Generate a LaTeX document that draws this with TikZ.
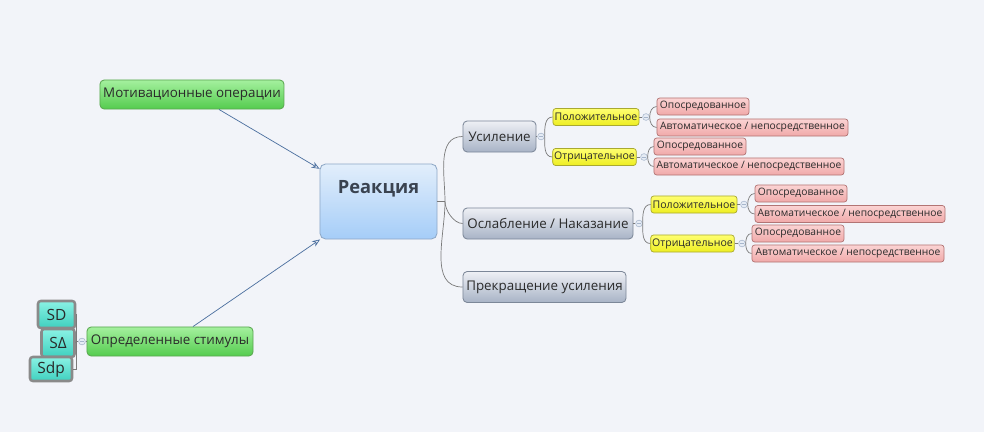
\documentclass[tikz,border=0pt]{standalone}
\usepackage{fontspec}
\setmainfont{Open Sans}
\usepackage{tikz}
\usetikzlibrary{arrows.meta,calc}
\definecolor{canvas}   {HTML}{F2F4F9}
\definecolor{ink}      {HTML}{2A2A2A}
\definecolor{reactink} {HTML}{3A4350}
\definecolor{linegrey} {HTML}{7A7A7A}
\definecolor{arrblue}  {HTML}{4A6E9E}
\definecolor{greentop} {HTML}{A4F09E}
\definecolor{greenbot} {HTML}{55CC4F}
\definecolor{greenedge}{HTML}{5AA650}
\definecolor{reacttop} {HTML}{E2EEFB}
\definecolor{reactbot} {HTML}{A5CDF8}
\definecolor{reactedge}{HTML}{8EA8C6}
\definecolor{greytop}  {HTML}{EEF0F5}
\definecolor{greybot}  {HTML}{A8B3C6}
\definecolor{greyedge} {HTML}{7C8798}
\definecolor{yeltop}   {HTML}{FFFF70}
\definecolor{yelbot}   {HTML}{EEEE22}
\definecolor{yeledge}  {HTML}{A9A930}
\definecolor{pinktop}  {HTML}{FBD3D3}
\definecolor{pinkbot}  {HTML}{F0A9A9}
\definecolor{pinkedge} {HTML}{B27474}
\definecolor{tealtop}  {HTML}{8AF2E4}
\definecolor{tealbot}  {HTML}{3FD0BF}
\definecolor{tealedge} {HTML}{8A8A8A}
\definecolor{markfill} {HTML}{E6ECF5}
\definecolor{markedge} {HTML}{A7B6CC}
\tikzset{
  greenbox/.style ={draw=greenedge, top color=greentop, bottom color=greenbot,
                    rounded corners=3pt, line width=0.6pt, minimum height=0.725cm,
                    inner sep=2pt, text=ink, font=\fontsize{9.5}{11}\selectfont},
  reactbox/.style ={draw=reactedge, top color=reacttop, bottom color=reactbot,
                    rounded corners=4pt, line width=0.6pt,
                    minimum width=2.925cm, minimum height=1.875cm,
                    text depth=0.75cm, inner sep=2pt, text=reactink,
                    font=\fontsize{13}{15}\selectfont\bfseries},
  topicbox/.style ={draw=greyedge, top color=greytop, bottom color=greybot,
                    rounded corners=3pt, line width=0.6pt, minimum height=0.775cm,
                    inner sep=2pt, text=ink, font=\fontsize{9.5}{11}\selectfont},
  yelbox/.style   ={draw=yeledge, top color=yeltop, bottom color=yelbot,
                    rounded corners=2pt, line width=0.5pt, minimum height=0.425cm,
                    inner sep=1pt, text=ink, font=\fontsize{7.5}{9}\selectfont},
  pinkbox/.style  ={draw=pinkedge, top color=pinktop, bottom color=pinkbot,
                    rounded corners=2pt, line width=0.5pt, minimum height=0.425cm,
                    inner sep=1pt, text=ink, font=\fontsize{7.3}{9}\selectfont},
  tealbox/.style  ={draw=tealedge, top color=tealtop, bottom color=tealbot,
                    rounded corners=2pt, line width=1.8pt,
                    inner sep=1pt, text=ink, font=\fontsize{11}{13}\selectfont},
  marker/.style   ={circle, draw=markedge, fill=markfill, line width=0.4pt,
                    minimum size=0.17cm, inner sep=0pt,
                    path picture={\draw[markedge,line width=0.4pt]
                      ([xshift=-0.05cm]path picture bounding box.center) --
                      ([xshift=0.05cm]path picture bounding box.center);}},
  conn/.style     ={draw=linegrey, line width=0.5pt},
  arr/.style      ={-{Stealth[length=2mm,width=1.6mm,open]}, draw=arrblue, line width=0.5pt},
}
\begin{document}
\begin{tikzpicture}[x=0.025cm,y=-0.025cm]
  \fill[canvas] (0,0) rectangle (984,432);
  \useasboundingbox (0,0) rectangle (984,432);

  % left side
  \node[greenbox,minimum width=4.6cm]  (motiv) at (192,94.5)  {Мотивационные операции};
  \node[greenbox,minimum width=4.15cm] (stim)  at (170,341.5) {Определенные стимулы};
  \node[tealbox,minimum width=0.925cm,minimum height=0.675cm] (sd)     at (56.5,314.5) {SD};
  \node[tealbox,minimum width=0.825cm,minimum height=0.7cm]   (sdelta) at (58,343)    {SΔ};
  \node[tealbox,minimum width=1.05cm,minimum height=0.6cm]    (sdp)    at (51,369)    {Sdp};

  % centre
  \node[reactbox] (react) at (378.5,201.5) {Реакция};

  % first level
  \node[topicbox,minimum width=1.825cm] (us)   at (499.5,136.5) {Усиление};
  \node[topicbox,minimum width=4.25cm]  (osl)  at (548,223.5)   {Ослабление / Наказание};
  \node[topicbox,minimum width=4.075cm] (prek) at (544.5,287)   {Прекращение усиления};

  % second level
  \node[yelbox,minimum width=2.15cm]  (pos1) at (596,117)    {Положительное};
  \node[yelbox,minimum width=2.075cm] (neg1) at (594.5,157)  {Отрицательное};
  \node[yelbox,minimum width=2.15cm]  (pos2) at (694,204.5)  {Положительное};
  \node[yelbox,minimum width=2.075cm] (neg2) at (692.5,243.5) {Отрицательное};

  % third level
  \node[pinkbox,minimum width=2.3cm]  (pos1a) at (703,106.5) {Опосредованное};
  \node[pinkbox,minimum width=4.775cm](pos1b) at (752.5,127.5) {Автоматическое / непосредственное};
  \node[pinkbox,minimum width=2.3cm]  (neg1a) at (700,146.5) {Опосредованное};
  \node[pinkbox,minimum width=4.75cm] (neg1b) at (749,166.5) {Автоматическое / непосредственное};
  \node[pinkbox,minimum width=2.3cm]  (pos2a) at (801,193.5) {Опосредованное};
  \node[pinkbox,minimum width=4.75cm] (pos2b) at (850,214)   {Автоматическое / непосредственное};
  \node[pinkbox,minimum width=2.3cm]  (neg2a) at (798,233.5) {Опосредованное};
  \node[pinkbox,minimum width=4.8cm]  (neg2b) at (848,253.5) {Автоматическое / непосредственное};

  % collapse markers
  \node[marker] (mus)   at (541,136.5) {};
  \node[marker] (mosl)  at (639,223.5) {};
  \node[marker] (mpos1) at (646,117)   {};
  \node[marker] (mneg1) at (644,157)   {};
  \node[marker] (mpos2) at (744,204.5) {};
  \node[marker] (mneg2) at (742,243.5) {};
  \node[marker] (mstim) at (82,341.5)  {};
  \coordinate (jr) at (445,201.5);
  \coordinate (js) at (76,341.5);

  % tree lines
  \draw[conn] (react.east) -- (jr);
  \draw[conn] (jr) to[out=90,in=180] (us.west);
  \draw[conn] (jr) to[out=-90,in=180,looseness=0.8] (osl.west);
  \draw[conn] (jr) to[out=-90,in=180] (prek.west);
  \draw[conn] (us.east) -- (mus.west);
  \draw[conn] (mus.east) to[out=90,in=180] (pos1.west);
  \draw[conn] (mus.east) to[out=-90,in=180] (neg1.west);
  \draw[conn] (osl.east) -- (mosl.west);
  \draw[conn] (mosl.east) to[out=90,in=180] (pos2.west);
  \draw[conn] (mosl.east) to[out=-90,in=180] (neg2.west);
  \draw[conn] (pos1.east) -- (mpos1.west);
  \draw[conn] (mpos1.east) to[out=90,in=180] (pos1a.west);
  \draw[conn] (mpos1.east) to[out=-90,in=180] (pos1b.west);
  \draw[conn] (neg1.east) -- (mneg1.west);
  \draw[conn] (mneg1.east) to[out=90,in=180] (neg1a.west);
  \draw[conn] (mneg1.east) to[out=-90,in=180] (neg1b.west);
  \draw[conn] (pos2.east) -- (mpos2.west);
  \draw[conn] (mpos2.east) to[out=90,in=180] (pos2a.west);
  \draw[conn] (mpos2.east) to[out=-90,in=180] (pos2b.west);
  \draw[conn] (neg2.east) -- (mneg2.west);
  \draw[conn] (mneg2.east) to[out=90,in=180] (neg2a.west);
  \draw[conn] (mneg2.east) to[out=-90,in=180] (neg2b.west);
  \draw[conn] (stim.west) -- (mstim.east);
  \draw[conn] (mstim.west) -- (js);
  \draw[conn] (sd.east) -- (js |- sd.east) -- (js |- sdp.east) -- (sdp.east);
  \draw[conn] (sdelta.east) -- (js);

  % arrows into the reaction
  \draw[arr] (motiv.-29) -- (react.151);
  \draw[arr] (stim.33) -- (react.213);
\end{tikzpicture}
\end{document}
